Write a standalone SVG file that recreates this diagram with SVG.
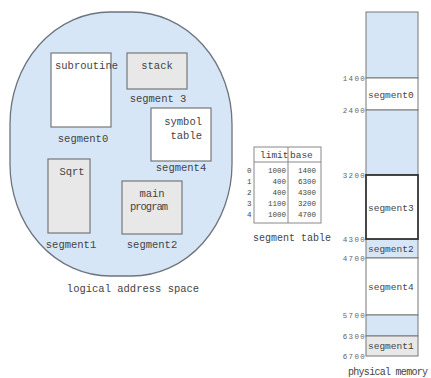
<svg xmlns="http://www.w3.org/2000/svg" width="431" height="378" viewBox="0 0 431 378">
<style>
.t{font-family:"Liberation Mono","DejaVu Sans Mono",monospace;fill:#444;}
.lbl{font-size:10.5px;}
.tab{font-size:7.5px;}
.num{font-size:7.5px;letter-spacing:1.3px;fill:#666;}
.box{stroke:#777;stroke-width:1.2;}
.w{fill:#ffffff;}
.g{fill:#e8e8e8;}
.b{fill:#d6e6f7;}
.mem{stroke:#777;stroke-width:1;}
</style>
<rect width="431" height="378" fill="#ffffff"/>
<g id="logical">
<rect x="10" y="12" width="222" height="264" rx="100" ry="112" fill="#d6e6f7" stroke="#6e747c" stroke-width="1.3"/>
</g>
<g id="seg0">
<rect class="box w" x="51" y="53" width="60" height="74"/>
<text class="t lbl" x="55" y="69">subroutine</text>
<text class="t lbl" x="83" y="142" text-anchor="middle">segment0</text>
</g>
<g id="seg3">
<rect class="box g" x="127" y="53" width="60" height="36"/>
<text class="t lbl" x="157" y="69" text-anchor="middle">stack</text>
<text class="t lbl" x="158" y="102" text-anchor="middle">segment 3</text>
</g>
<g id="seg4">
<rect class="box w" x="151" y="108" width="60" height="53"/>
<text class="t lbl" x="202" y="125" text-anchor="end">symbol</text>
<text class="t lbl" x="202" y="139" text-anchor="end">table</text>
<text class="t lbl" x="181" y="171" text-anchor="middle">segment4</text>
</g>
<g id="seg1">
<rect class="box g" x="48" y="159" width="42" height="74"/>
<text class="t lbl" x="72" y="175" text-anchor="middle">Sqrt</text>
<text class="t lbl" x="71" y="248" text-anchor="middle">segment1</text>
</g>
<g id="seg2">
<rect class="box g" x="122" y="181" width="60" height="53"/>
<text class="t lbl" x="152" y="197" text-anchor="middle">main</text>
<text class="t lbl" x="130" y="210" textLength="38" lengthAdjust="spacing">program</text>
<text class="t lbl" x="152" y="248" text-anchor="middle">segment2</text>
</g>
<text class="t lbl" x="133" y="292" text-anchor="middle">logical address space</text>
<g id="segtable">
<rect x="254" y="147" width="67" height="76" fill="#ffffff" stroke="#888" stroke-width="1"/>
<line x1="254" y1="162" x2="321" y2="162" stroke="#888" stroke-width="1"/>
<line x1="288" y1="147" x2="288" y2="223" stroke="#888" stroke-width="1"/>
<text class="t" font-size="9.5" x="260" y="158">limit</text>
<text class="t" font-size="9.5" x="290" y="158">base</text>
<g class="t tab">
<text x="247" y="173">0</text><text x="286" y="173" text-anchor="end">1000</text><text x="316" y="173" text-anchor="end">1400</text>
<text x="247" y="184">1</text><text x="286" y="184" text-anchor="end">400</text><text x="316" y="184" text-anchor="end">6300</text>
<text x="247" y="195">2</text><text x="286" y="195" text-anchor="end">400</text><text x="316" y="195" text-anchor="end">4300</text>
<text x="247" y="206">3</text><text x="286" y="206" text-anchor="end">1100</text><text x="316" y="206" text-anchor="end">3200</text>
<text x="247" y="217">4</text><text x="286" y="217" text-anchor="end">1000</text><text x="316" y="217" text-anchor="end">4700</text>
</g>
<text class="t" font-size="10" x="292" y="241" text-anchor="middle">segment table</text>
</g>
<g id="physical">
<rect class="mem b" x="366" y="12" width="52" height="66"/>
<rect class="mem w" x="366" y="78" width="52" height="32"/>
<rect class="mem b" x="366" y="110" width="52" height="65"/>
<rect class="mem b" x="366" y="239" width="52" height="19"/>
<rect class="mem w" x="366" y="258" width="52" height="57"/>
<rect class="mem b" x="366" y="315" width="52" height="21"/>
<rect class="mem g" x="366" y="336" width="52" height="20"/>
<rect x="366" y="175" width="52" height="64" fill="#ffffff" stroke="#333" stroke-width="1.8"/>
<g class="t" font-size="9.5">
<text x="368" y="98">segment0</text>
<text x="368" y="211">segment3</text>
<text x="368" y="252">segment2</text>
<text x="368" y="290">segment4</text>
<text x="368" y="349">segment1</text>
</g>
<g class="t num" text-anchor="end">
<text x="366" y="81">1400</text>
<text x="366" y="113">2400</text>
<text x="366" y="178">3200</text>
<text x="366" y="242">4300</text>
<text x="366" y="261">4700</text>
<text x="366" y="318">5700</text>
<text x="366" y="339">6300</text>
<text x="366" y="359">6700</text>
</g>
<text class="t" font-size="10" x="348" y="375" textLength="80" lengthAdjust="spacing">physical memory</text>
</g>
</svg>
